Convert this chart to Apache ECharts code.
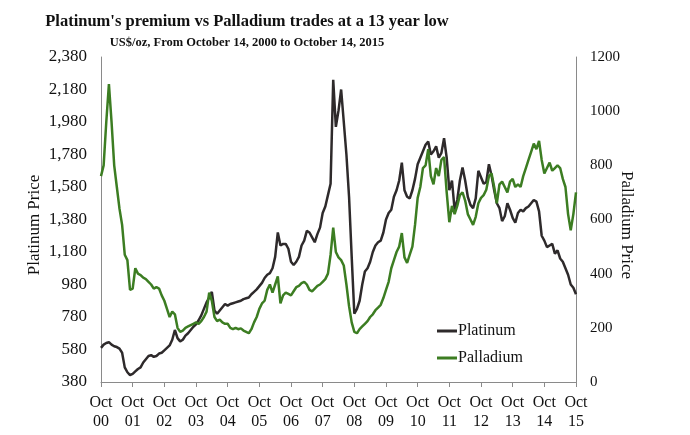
<!DOCTYPE html>
<html>
<head>
<meta charset="utf-8">
<script src="https://cdn.jsdelivr.net/npm/echarts@6/dist/echarts.min.js"></script>
<style>
  html, body { margin: 0; padding: 0; background: #fff; }
  #main { width: 690px; height: 435px; }
</style>
</head>
<body>
<div id="main"></div>
<script>
// monthly points, Oct 2000 .. Oct 2015
const yearLabels = ['00', '01', '02', '03', '04', '05', '06', '07', '08', '09', '10', '11', '12', '13', '14', '15'];
const months = [];
for (let i = 0; i <= 180; i++) {
  const mm = (9 + i) % 12;
  const yy = 2000 + Math.floor((9 + i) / 12);
  months.push(yy + '-' + String(mm + 1).padStart(2, '0'));
}

const platinum = [
  590, 610, 620, 625, 610, 600, 595, 585, 560, 470, 440, 423,
  430, 445, 460, 470, 500, 520, 540, 545, 535, 540, 555, 560,
  575, 590, 605, 640, 700, 650, 630, 640, 665, 680, 700, 720,
  735, 760, 790, 830, 870, 900, 935, 820, 800, 820, 840, 860,
  850, 860, 865, 870, 875, 880, 890, 895, 900, 920, 935, 950,
  970, 990, 1020, 1040, 1050, 1080, 1150, 1300, 1220, 1230, 1230, 1200,
  1120, 1100, 1120, 1150, 1220, 1250, 1310, 1300, 1270, 1240, 1290, 1330,
  1420, 1460, 1530, 1600, 2240, 1950, 2050, 2180, 1980, 1780, 1520, 1150,
  800, 830, 880, 980, 1060, 1080, 1120, 1180, 1220, 1240, 1250, 1300,
  1380, 1420, 1440, 1520, 1560, 1620, 1730, 1560, 1520, 1510, 1560, 1630,
  1720, 1760, 1800, 1840, 1860, 1780, 1800, 1830, 1760, 1790, 1880, 1760,
  1560, 1620, 1440, 1500, 1620, 1700, 1620, 1520, 1470, 1450, 1510, 1680,
  1640, 1600, 1610, 1720, 1650, 1560, 1480, 1450, 1370, 1400, 1480, 1440,
  1390, 1360, 1420, 1440, 1430, 1450, 1460, 1480, 1500, 1490, 1430, 1280,
  1250, 1210, 1220, 1230, 1170, 1190, 1140, 1120, 1080, 1040, 980, 960,
  920
];

const palladium = [
  760, 800, 960, 1100, 960, 800, 720, 640, 580, 470, 450, 340,
  345, 420, 400, 395, 385, 380, 370, 360, 345, 350, 345, 320,
  300, 270, 240, 260, 250, 200, 185, 190, 200, 205, 210, 215,
  220, 215, 225, 240, 260, 330, 300, 240, 225, 230, 220, 215,
  215, 200, 195, 200, 195, 198, 190, 185, 180, 195, 220, 240,
  270, 290, 300, 340, 360, 330, 360, 390, 290, 320, 330, 325,
  320, 335, 350, 355, 365, 370, 360, 340, 335, 345, 355, 360,
  370, 380, 400, 470, 570, 480, 460, 450, 430, 360, 280, 220,
  185, 180, 195, 205, 215, 225, 240, 250, 265, 275, 285, 310,
  340, 370, 420, 450, 480, 500, 550, 460, 440, 470, 500, 580,
  680, 720, 790, 800, 860, 760, 730, 790, 760, 820, 830, 700,
  590, 650, 620, 650, 690, 700, 670, 620, 600, 580, 610, 660,
  680, 690, 710, 760, 770, 720, 660, 730, 740, 720, 700, 740,
  750, 720, 730, 720, 760, 790, 820, 850, 880, 860, 890, 820,
  770, 790, 810, 780, 790, 800, 790, 750, 720, 620, 560, 620,
  700
];

const font = '"Liberation Serif", "DejaVu Serif", serif';
const chart = echarts.init(document.getElementById('main'));

chart.setOption({
  animation: false,
  textStyle: { fontFamily: font },
  graphic: [
    {
      type: 'text', x: 247, y: 13,
      style: {
        text: "Platinum's premium vs Palladium trades at a 13 year low",
        font: 'bold 16.5px ' + font, fill: '#111', textAlign: 'center'
      }
    },
    {
      type: 'text', x: 247, y: 36,
      style: {
        text: 'US$/oz, From October 14, 2000 to October 14, 2015',
        font: 'bold 12.5px ' + font, fill: '#111', textAlign: 'center'
      }
    },
    // axis titles placed by hand, the right one overlaps the tick labels as in the source
    {
      type: 'text', x: 35, y: 225, rotation: Math.PI / 2,
      style: {
        text: 'Platinum Price', font: '17px ' + font, fill: '#111',
        textAlign: 'center', textVerticalAlign: 'middle'
      }
    },
    {
      type: 'text', x: 626, y: 225, rotation: -Math.PI / 2,
      style: {
        text: 'Palladium Price', font: '17px ' + font, fill: '#111',
        textAlign: 'center', textVerticalAlign: 'middle'
      }
    }
  ],
  legend: {
    orient: 'vertical',
    left: 432,
    top: 318,
    itemGap: 11,
    itemWidth: 20,
    itemHeight: 3,
    icon: 'rect',
    textStyle: { fontFamily: font, fontSize: 16, color: '#111', padding: [0, 0, 0, -4] },
    data: ['Platinum', 'Palladium']
  },
  grid: { left: 101, right: 114, top: 57, bottom: 53 },
  xAxis: {
    type: 'category',
    boundaryGap: false,
    data: months,
    axisLine: { lineStyle: { color: '#8a8a8a' } },
    axisTick: {
      length: 5,
      interval: (i) => i % 12 === 0,
      lineStyle: { color: '#8a8a8a' }
    },
    axisLabel: {
      interval: (i) => i % 12 === 0,
      formatter: (v, i) => 'Oct\n' + yearLabels[i / 12],
      fontSize: 16,
      lineHeight: 19,
      color: '#111',
      margin: 11
    },
    splitLine: { show: false }
  },
  yAxis: [
    {
      type: 'value',
      min: 380,
      max: 2380,
      interval: 200,
      axisLine: { show: true, lineStyle: { color: '#8a8a8a' } },
      axisTick: { show: false },
      axisLabel: {
        fontSize: 17, color: '#111', margin: 14,
        formatter: (v) => v.toLocaleString('en-US')
      },
      splitLine: { show: false }
    },
    {
      type: 'value',
      min: 0,
      max: 1200,
      interval: 200,
      position: 'right',
      axisLine: { show: true, lineStyle: { color: '#8a8a8a' } },
      axisTick: { show: false },
      axisLabel: { fontSize: 15, color: '#111', margin: 14, formatter: (v) => String(v) },
      splitLine: { show: false }
    }
  ],
  series: [
    {
      name: 'Platinum',
      type: 'line',
      data: platinum,
      yAxisIndex: 0,
      showSymbol: false,
      lineStyle: { width: 2.5, color: '#2e2a2b' },
      itemStyle: { color: '#2e2a2b' }
    },
    {
      name: 'Palladium',
      type: 'line',
      data: palladium,
      yAxisIndex: 1,
      showSymbol: false,
      lineStyle: { width: 2.5, color: '#3c7d22' },
      itemStyle: { color: '#3c7d22' }
    }
  ]
});
</script>
</body>
</html>
